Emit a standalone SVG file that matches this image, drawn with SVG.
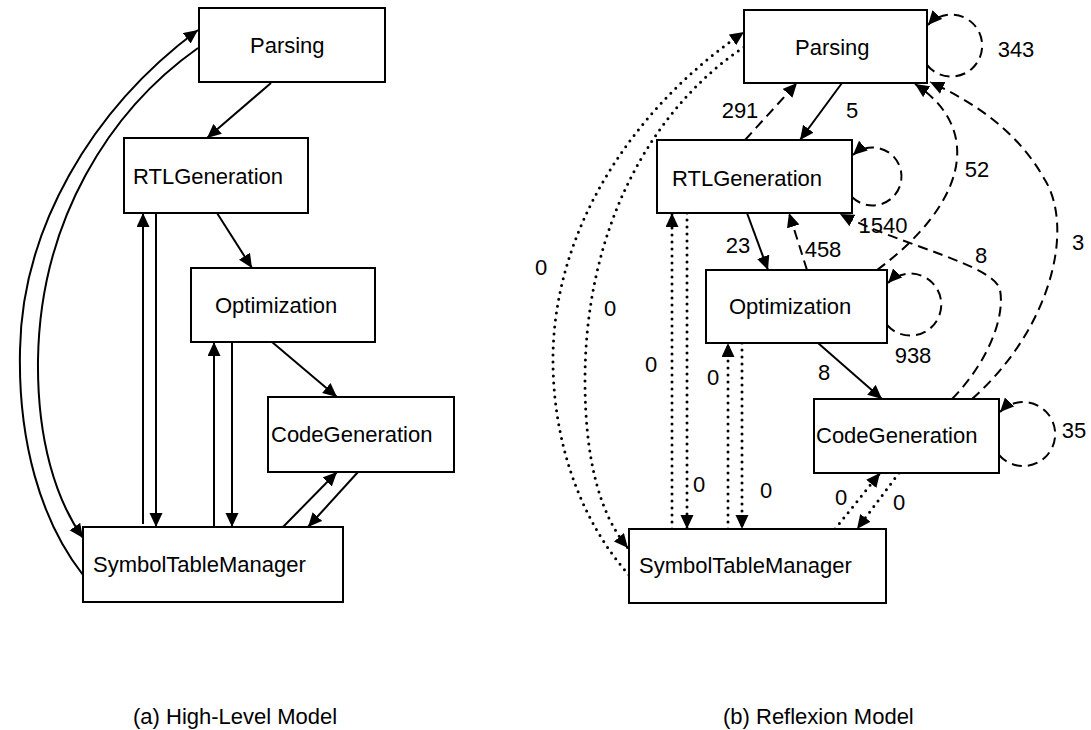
<svg xmlns="http://www.w3.org/2000/svg" width="1091" height="730" viewBox="0 0 1091 730">
<style>
.box{fill:#fff;stroke:#000;stroke-width:2}
.t{font-family:"Liberation Sans",Arial,sans-serif;font-size:22px;fill:#000}
.m{text-anchor:middle}
.s{fill:none;stroke:#000;stroke-width:2}
.d{fill:none;stroke:#000;stroke-width:2;stroke-dasharray:10 6}
.o{fill:none;stroke:#000;stroke-width:3;stroke-dasharray:0 7;stroke-linecap:round}
</style>
<defs>
<marker id="ah" markerUnits="userSpaceOnUse" markerWidth="15" markerHeight="14" refX="14" refY="6.5" orient="auto">
<path d="M0,0 L14,6.5 L0,13 z" fill="#000"/>
</marker>
</defs>
<rect width="1091" height="730" fill="#fff"/>

<g id="connectors">
<!-- left (a) -->
<path class="s" d="M271,83 L207,138" marker-end="url(#ah)"/>
<path class="s" d="M217,213 L252,268" marker-end="url(#ah)"/>
<path class="s" d="M272,342 L337,397" marker-end="url(#ah)"/>
<path class="s" d="M143,524 L143,213" marker-end="url(#ah)"/>
<path class="s" d="M156,213 L156,527" marker-end="url(#ah)"/>
<path class="s" d="M214,527 L214,342" marker-end="url(#ah)"/>
<path class="s" d="M232,342 L232,527" marker-end="url(#ah)"/>
<path class="s" d="M283,527 L337,472" marker-end="url(#ah)"/>
<path class="s" d="M358,472 L308,527" marker-end="url(#ah)"/>
<path class="s" d="M83,575 C40,520 18,440 20,350 C22,230 90,110 198,30" marker-end="url(#ah)"/>
<path class="s" d="M198,48 C110,110 40,220 38,360 C37,440 56,500 83,538" marker-end="url(#ah)"/>

<!-- right (b) solid -->
<path class="s" d="M842,83 L800,140" marker-end="url(#ah)"/>
<path class="s" d="M747,213 L768,270" marker-end="url(#ah)"/>
<path class="s" d="M818,343 L882,399" marker-end="url(#ah)"/>
<!-- dashed -->
<path class="d" d="M745,140 L797,83" marker-end="url(#ah)"/>
<path class="d" d="M807,270 L789,213" marker-end="url(#ah)"/>
<path class="d" d="M927,65 A31,31 0 1 0 928,25" marker-end="url(#ah)"/>
<path class="d" d="M852,197 A29,29 0 1 0 853,155" marker-end="url(#ah)"/>
<path class="d" d="M887,325 A31,31 0 1 0 888,283" marker-end="url(#ah)"/>
<path class="d" d="M999,455 A32,32 0 1 0 1000,412" marker-end="url(#ah)"/>
<path class="d" d="M877,270 C965,205 985,130 915,84" marker-end="url(#ah)"/>
<path class="d" d="M972,399 C1050,330 1075,230 1045,180 C1020,135 980,105 930,82" marker-end="url(#ah)"/>
<path class="d" d="M952,399 C990,360 1005,315 1000,290 C995,265 900,245 840,214" marker-end="url(#ah)"/>
<!-- dotted -->
<path class="o" d="M629,575 C580,520 552,440 553,355 C555,230 630,110 744,32" marker-end="url(#ah)"/>
<path class="o" d="M744,47 C650,110 585,230 585,380 C585,460 600,515 628,548" marker-end="url(#ah)"/>
<path class="o" d="M672,529 L672,213" marker-end="url(#ah)"/>
<path class="o" d="M687,213 L687,529" marker-end="url(#ah)"/>
<path class="o" d="M728,529 L728,343" marker-end="url(#ah)"/>
<path class="o" d="M742,343 L742,529" marker-end="url(#ah)"/>
<path class="o" d="M835,529 L880,473" marker-end="url(#ah)"/>
<path class="o" d="M899,473 L857,529" marker-end="url(#ah)"/>

<!-- labels -->
<g class="t m">
<text x="852" y="118">5</text>
<text x="740" y="118">291</text>
<text x="1016" y="57">343</text>
<text x="977" y="177">52</text>
<text x="883" y="233">1540</text>
<text x="738" y="253">23</text>
<text x="823" y="257">458</text>
<text x="981" y="263">8</text>
<text x="1078" y="250">3</text>
<text x="913" y="363">938</text>
<text x="824" y="380">8</text>
<text x="1074" y="438">35</text>
<text x="541" y="275">0</text>
<text x="610" y="316">0</text>
<text x="651" y="372">0</text>
<text x="713" y="385">0</text>
<text x="699" y="492">0</text>
<text x="766" y="498">0</text>
<text x="841" y="505">0</text>
<text x="899" y="510">0</text>
</g>
</g>

<!-- left nodes -->
<g id="a-parsing"><rect class="box" x="199" y="8" width="186" height="74"/><text class="t" x="250" y="53">Parsing</text></g>
<g id="a-rtl"><rect class="box" x="124" y="138" width="184" height="75"/><text class="t" x="133" y="184">RTLGeneration</text></g>
<g id="a-opt"><rect class="box" x="191" y="268" width="184" height="74"/><text class="t" x="215" y="313">Optimization</text></g>
<g id="a-code"><rect class="box" x="268" y="397" width="186" height="75"/><text class="t" x="271" y="442">CodeGeneration</text></g>
<g id="a-stm"><rect class="box" x="83" y="527" width="260" height="75"/><text class="t" x="93" y="572">SymbolTableManager</text></g>

<!-- right nodes -->
<g id="b-parsing"><rect class="box" x="744" y="10" width="183" height="73"/><text class="t" x="795" y="55">Parsing</text></g>
<g id="b-rtl"><rect class="box" x="657" y="140" width="195" height="73"/><text class="t" x="672" y="186">RTLGeneration</text></g>
<g id="b-opt"><rect class="box" x="706" y="270" width="181" height="73"/><text class="t" x="729" y="314">Optimization</text></g>
<g id="b-code"><rect class="box" x="814" y="399" width="185" height="74"/><text class="t" x="816" y="443">CodeGeneration</text></g>
<g id="b-stm"><rect class="box" x="629" y="529" width="257" height="74"/><text class="t" x="639" y="573">SymbolTableManager</text></g>

<g id="captions">
<text class="t" x="133" y="724">(a) High-Level Model</text>
<text class="t" x="723" y="724">(b) Reflexion Model</text>
</g>
</svg>
